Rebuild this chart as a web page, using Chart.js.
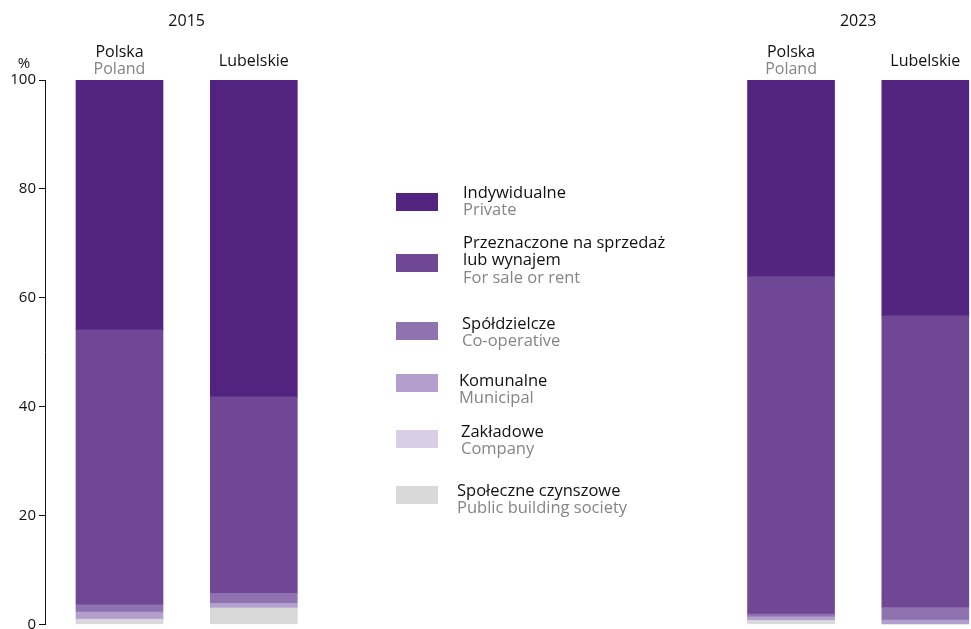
<!DOCTYPE html>
<html>
<head>
<meta charset="utf-8">
<script src="https://cdn.jsdelivr.net/npm/chart.js@4.4.1/dist/chart.umd.min.js"></script>
<style>
  body { margin: 0; background: #fff; }
  #wrap { width: 971px; height: 629px; position: relative; }
</style>
</head>
<body>
<div id="wrap"><canvas id="chart"></canvas></div>
<script>
const years = ["2015", "2023"]
const regionsPl = ["Polska", "Lubelskie", "Polska", "Lubelskie"]
const regionsEn = ["Poland", "", "Poland", ""]
const slots = [0, 1, 5, 6]
const yTicks = [0, 20, 40, 60, 80, 100]

// legend order (top of the stack first)
const seriesPl = ["Indywidualne", "Przeznaczone na sprzedaż\nlub wynajem", "Spółdzielcze", "Komunalne", "Zakładowe", "Społeczne czynszowe"]
const seriesEn = ["Private", "For sale or rent", "Co-operative", "Municipal", "Company", "Public building society"]

const privateValues = [45.9, 58.2, 36.1, 43.3]
const forSaleValues = [50.5, 36.1, 62.0, 53.6]
const coopValues = [1.3, 1.8, 0.5, 2.3]
const municipalValues = [1.3, 0.9, 0.7, 0.8]
const companyValues = [0.1, 0.0, 0.0, 0.0]
const publicValues = [0.9, 3.0, 0.7, 0.0]

const colors = ["#52237f", "#6f4794", "#8f73b1", "#b29fcd", "#d8cfe7", "#d9d9d9"]
const FONT = "'Open Sans', 'Noto Sans', sans-serif"
const BLACK = "#111111"
const GRAY = "#858585"

const allValues = [privateValues, forSaleValues, coopValues, municipalValues, companyValues, publicValues]

// datasets bottom to top
let datasets = []
for (let i = allValues.length - 1; i >= 0; i--) {
  datasets.push({
    label: seriesEn[i],
    data: allValues[i].map((v, j) => ({ x: slots[j], y: v })),
    backgroundColor: colors[i],
    borderWidth: 0,
    barThickness: 87
  })
}

// legend placement: square top, first text line centre, text left
const legendLayout = [
  { sq: 193, text: 193, tx: 463 },
  { sq: 254, text: 243, tx: 463 },
  { sq: 322, text: 324, tx: 462 },
  { sq: 374, text: 381, tx: 459 },
  { sq: 430, text: 432, tx: 461 },
  { sq: 486, text: 491, tx: 457 }
]

const labelsPlugin = {
  id: "labels",
  afterDraw(chart) {
    const ctx = chart.ctx
    const xs = chart.scales.x
    ctx.save()
    ctx.textAlign = "center"
    ctx.textBaseline = "middle"
    ctx.font = `16px ${FONT}`

    // years
    years.forEach((y, k) => {
      const cx = xs.getPixelForValue((slots[k * 2] + slots[k * 2 + 1]) / 2)
      ctx.fillStyle = BLACK
      ctx.fillText(y, cx, 21)
    })

    // regions
    regionsPl.forEach((name, j) => {
      const cx = xs.getPixelForValue(slots[j])
      if (regionsEn[j]) {
        ctx.fillStyle = BLACK
        ctx.fillText(name, cx, 52)
        ctx.fillStyle = GRAY
        ctx.fillText(regionsEn[j], cx, 69)
      } else {
        ctx.fillStyle = BLACK
        ctx.fillText(name, cx, 61)
      }
    })

    // % unit
    ctx.font = `15px ${FONT}`
    ctx.fillStyle = BLACK
    ctx.fillText("%", 24, 64)

    // legend
    ctx.textAlign = "left"
    ctx.font = `16.5px ${FONT}`
    legendLayout.forEach((l, i) => {
      ctx.fillStyle = colors[i]
      ctx.fillRect(396, l.sq, 42, 18)
      let lines = seriesPl[i].split("\n")
      let y = l.text
      lines.forEach(line => {
        ctx.fillStyle = BLACK
        ctx.fillText(line, l.tx, y)
        y += 17.5
      })
      ctx.fillStyle = GRAY
      ctx.fillText(seriesEn[i], l.tx, y)
    })
    ctx.restore()
  }
}

new Chart(document.getElementById("chart"), {
  type: "bar",
  data: { datasets: datasets },
  options: {
    responsive: true,
    maintainAspectRatio: false,
    animation: false,
    devicePixelRatio: 1,
    layout: { padding: { top: 80, bottom: 4.5, left: 0, right: 0 } },
    plugins: {
      legend: { display: false },
      tooltip: { enabled: false }
    },
    scales: {
      x: {
        type: "linear",
        display: false,
        stacked: true,
        offset: false,
        bounds: "data",
        min: -0.5547,
        max: 6.34,
        afterDataLimits: scale => {
          scale.min = -0.5547
          scale.max = 6.34
        }
      },
      y: {
        stacked: true,
        min: 0,
        max: 100,
        border: { display: true, color: BLACK, width: 1 },
        grid: { drawOnChartArea: false, drawTicks: true, tickLength: 6, color: BLACK },
        ticks: {
          padding: 3,
          color: BLACK,
          font: { family: FONT, size: 15 }
        },
        afterBuildTicks: scale => {
          scale.ticks = yTicks.map(v => ({ value: v }))
        },
        afterFit: scale => {
          scale.width = 45
          scale.paddingTop = 0
          scale.paddingBottom = 0
        }
      }
    }
  },
  plugins: [labelsPlugin]
})
</script>
</body>
</html>
